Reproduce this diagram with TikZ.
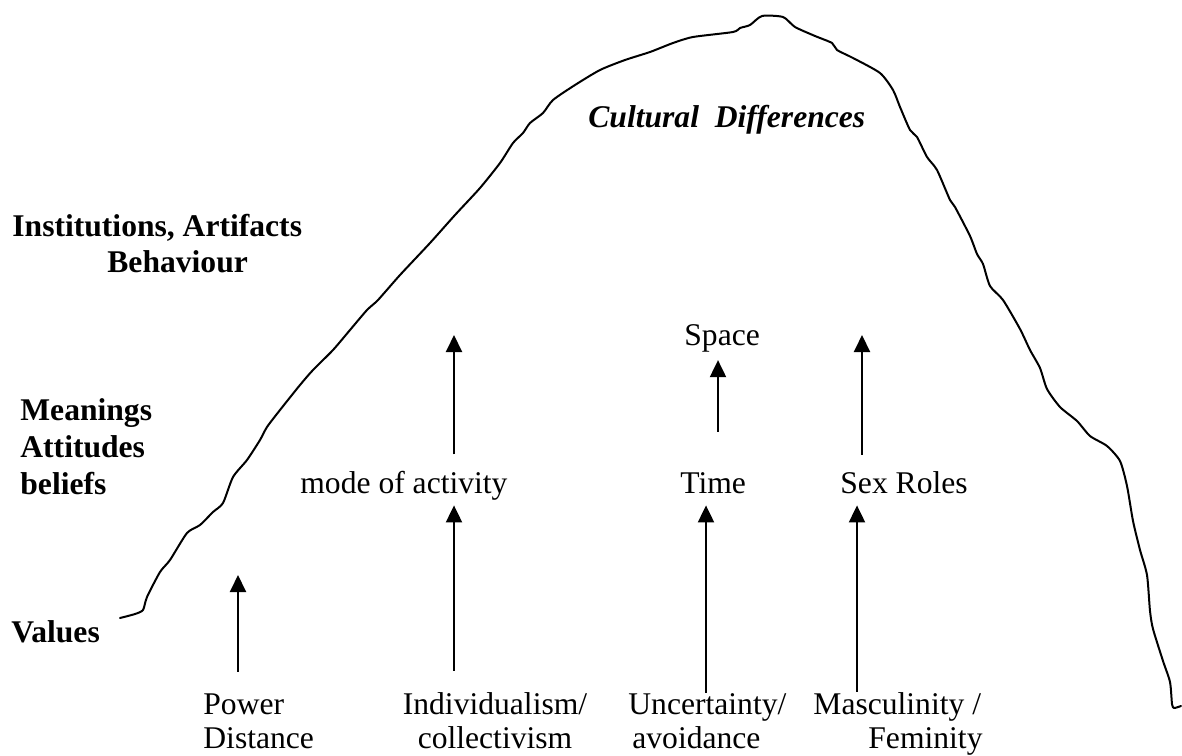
\documentclass[tikz,border=0pt]{standalone}
\usepackage{fontspec}
\setmainfont{Liberation Serif}
\usepackage{tikz}
\usetikzlibrary{arrows.meta,calc}
\tikzset{
  lbl/.style={inner sep=0pt, anchor=base west, font=\fontsize{15.8}{17}\selectfont},
  midlbl/.style={lbl, text depth=0pt},
  lvl/.style={inner sep=0pt, anchor=base west, align=left, font=\fontsize{15.8}{18.5}\selectfont\bfseries},
  ttl/.style={inner sep=0pt, anchor=base west, font=\fontsize{15.8}{17}\selectfont\bfseries\itshape},
  arr/.style={-{Triangle[length=8.5pt,width=8pt]}, line width=1pt},
  hill/.style={line width=1pt, line join=round, line cap=round},
}

\begin{document}
\begin{tikzpicture}[x=0.5pt,y=-0.5pt]
\useasboundingbox (0,0) rectangle (1182,755);
% the hill
\draw[hill] plot[smooth, tension=0.4] coordinates {
  (120,618) (135,614) (143,610) (147,597) (160,572) (170,560) (187,533) (200,525)
  (213,512) (223,503) (233,477) (247,460) (260,440) (267,427) (280,410) (300,385)
  (313,370) (333,350) (350,330) (367,310) (378,300) (400,275) (430,243) (455,215)
  (480,188) (500,163) (513,143) (523,133) (530,123) (543,113) (553,100) (575,85)
  (600,70) (625,60) (650,52) (673,43) (693,37) (733,32) (740,28) (750,25) (762,16)
  (783,17) (795,27) (815,36) (832,43) (837,50) (853,58) (880,73) (893,90) (900,107)
  (910,130) (917,137) (927,157) (937,170) (950,200) (955,207) (970,236) (977,254)
  (983,264) (990,286) (1003,300) (1020,329) (1030,350) (1040,368) (1047,389)
  (1060,407) (1077,421) (1090,436) (1107,446) (1120,461) (1127,486) (1133,521)
  (1140,550) (1147,575) (1150,611) (1153,629) (1163,661) (1170,682) (1172,704)
  (1174,708) (1181,706)};

\node[ttl] (cult) at (588,127) {Cultural\ \ Differences};

% levels (base = last line)
\node[lvl] (inst) at (12,236) {Institutions, Artifacts};
\node[lvl] (behav) at (107,272) {Behaviour};
\node[lvl] (mean) at (20,494) {Meanings\\Attitudes\\beliefs};
\node[lvl] (values) at (11,642) {Values};

% dimensions
\node[lbl, align=left] (power) at (203,748) {Power\\Distance};
\node[lbl, align=center, anchor=base] (indiv) at (495,748) {Individualism/\\collectivism};
\node[lbl, align=left] (uncert) at (628,748) {Uncertainty/\\\hspace{2pt}avoidance};
\node[lbl, align=left] (masc) at (813,748) {Masculinity /\\\hspace{27.5pt}Feminity};

\node[midlbl] (mode) at (300,493) {mode of activity};
\node[midlbl] (time) at (680,493) {Time};
\node[midlbl] (sex) at (840,493) {Sex Roles};
\node[lbl] (space) at (684,345) {Space};

\coordinate (pdtip) at (238,575);
\coordinate (modetip) at (454,335);
\coordinate (sextip) at (862,335);
\coordinate (coltime) at (706,0);
\coordinate (colspace) at (718,0);
\coordinate (colsex) at (857,0);

\draw[arr, shorten <=10.5pt] (power.north -| pdtip) -- (pdtip);
\draw[arr, shorten <=10.5pt, shorten >=6pt] (indiv.north -| modetip) -- (mode.south -| modetip);
\draw[arr, shorten <=8pt] (mode.north -| modetip) -- (modetip);
\draw[arr, shorten >=6pt] (uncert.north -| coltime) -- (time.south -| coltime);
\draw[arr, shorten <=20pt, shorten >=4pt] (time.north -| colspace) -- (space.south -| colspace);
\draw[arr, shorten >=6pt] (masc.north -| colsex) -- (sex.south -| colsex);
\draw[arr, shorten <=8pt] (sex.north -| sextip) -- (sextip);
\end{tikzpicture}
\end{document}
